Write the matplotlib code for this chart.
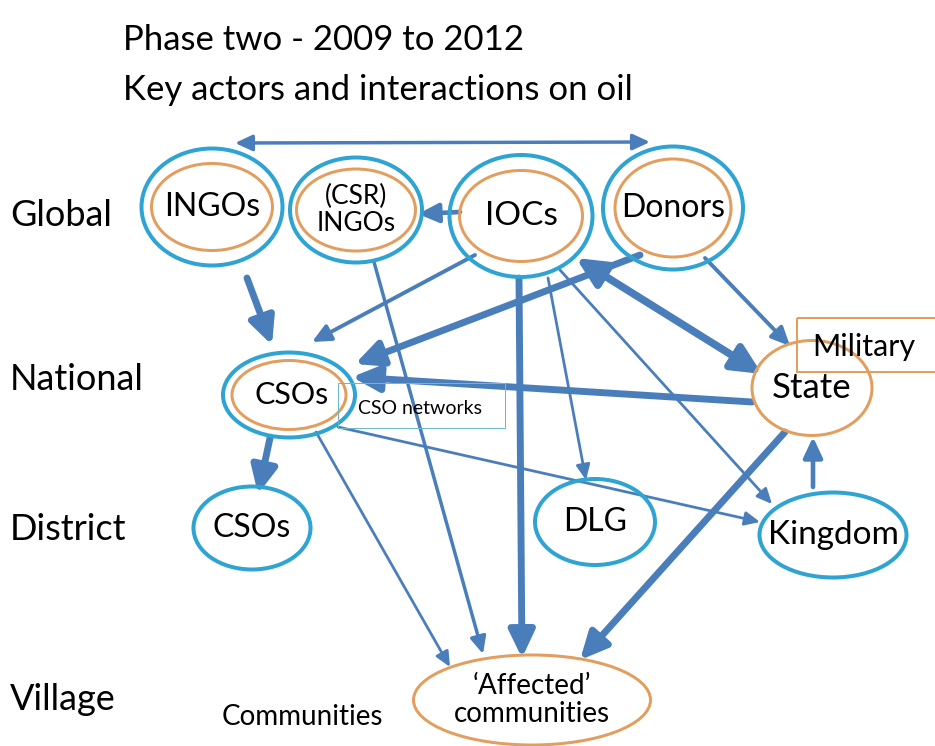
import matplotlib.pyplot as plt
from matplotlib.patches import Ellipse, Rectangle, FancyArrowPatch

plt.rcParams['font.family'] = ['Lato', 'DejaVu Sans']

# ---- data ----
title_lines = ['Phase two - 2009 to 2012', 'Key actors and interactions on oil']
levels = ['Global', 'National', 'District', 'Village']

node_names = ['ingos', 'csr', 'iocs', 'donors', 'csos_nat', 'state',
              'csos_dist', 'dlg', 'kingdom', 'affected']
node_labels = ['INGOs', '(CSR)\nINGOs', 'IOCs', 'Donors', 'CSOs', 'State',
               'CSOs', 'DLG', 'Kingdom', '\u2018Affected\u2019\ncommunities']
# ring type: 'both' = blue outer + orange inner, 'blue', 'orange'
node_rings = ['both', 'both', 'both', 'both', 'both', 'orange',
              'blue', 'blue', 'blue', 'orange']

# edges: source, target, strength (1 thin .. 3 thick), double-headed
edge_src = ['donors', 'ingos', 'iocs', 'csr', 'iocs', 'donors', 'state', 'donors',
            'state', 'iocs', 'iocs', 'iocs', 'csos_nat', 'csos_nat', 'csos_nat',
            'kingdom', 'state']
edge_dst = ['ingos', 'csos_nat', 'csr', 'affected', 'csos_nat', 'csos_nat', 'iocs',
            'state', 'csos_nat', 'affected', 'dlg', 'kingdom', 'kingdom',
            'csos_dist', 'affected', 'state', 'affected']
edge_strength = [1.5, 3, 2, 1.5, 1.7, 3, 3.3, 1.7, 3, 3, 1.2, 1.2, 1.2, 3, 1.2, 2, 3]
edge_double = [True] + [False] * 5 + [True] + [False] * 10

extra_boxes = ['Military', 'CSO networks']
side_note = 'Communities'

# ---- layout (pixel coordinates) ----
node_pos = {
    'ingos': (212, 207), 'csr': (356, 210), 'iocs': (521, 216), 'donors': (673, 208),
    'csos_nat': (289, 395), 'state': (812, 388), 'csos_dist': (252, 528),
    'dlg': (595, 522), 'kingdom': (833, 535), 'affected': (532, 700),
}
outer_size = {
    'ingos': (141, 117), 'csr': (132, 105), 'iocs': (143, 122), 'donors': (140, 123),
    'csos_nat': (132, 85), 'csos_dist': (117, 83), 'dlg': (120, 86),
    'kingdom': (147, 85),
}
inner_size = {
    'ingos': (121, 87), 'csr': (119, 82), 'iocs': (123, 91), 'donors': (116, 98),
    'csos_nat': (114, 69), 'state': (120, 95), 'affected': (237, 90),
}
edge_pts = [
    ((650, 142), (235, 143)),
    ((247, 278), (272, 345)),
    ((460, 212), (418, 214)),
    ((374, 262), (483, 654)),
    ((475, 255), (312, 342)),
    ((640, 255), (355, 364)),
    ((762, 374), (576, 258)),
    ((705, 258), (790, 346)),
    ((752, 402), (352, 377)),
    ((519, 278), (522, 658)),
    ((548, 278), (586, 480)),
    ((560, 270), (772, 504)),
    ((338, 427), (760, 522)),
    ((270, 438), (258, 494)),
    ((316, 432), (450, 667)),
    ((813, 487), (813, 437)),
    ((785, 432), (580, 660)),
]
level_y = [215, 380, 530, 700]

BLUE = '#2fa4d2'
ORANGE = '#e29e5e'
ARROW = '#4a7ebb'
PX = 0.72  # pixels -> points at dpi 100

fig = plt.figure(figsize=(9.35, 7.46), dpi=100)
ax = fig.add_axes([0, 0, 1, 1])
ax.set_xlim(0, 935)
ax.set_ylim(746, 0)
ax.axis('off')

# title
ax.text(123, 40, title_lines[0], fontsize=25, va='center', ha='left')
ax.text(123, 90, title_lines[1], fontsize=25, va='center', ha='left')

# level labels
for lab, y in zip(levels, level_y):
    ax.text(10, y, lab, fontsize=26, va='center', ha='left')

# edges
for (p0, p1), s, dbl in zip(edge_pts, edge_strength, edge_double):
    lw = 2.3 * s * PX
    hw = 5 + 5.5 * s
    hl = 6 + 5.5 * s
    style = '<|-|>' if dbl else '-|>'
    arr = FancyArrowPatch(p0, p1, arrowstyle=f'{style},head_length={hl * PX},head_width={hw * PX / 2}',
                          color=ARROW, lw=lw, shrinkA=0, shrinkB=0, zorder=2)
    ax.add_patch(arr)

# nodes
for name, lab, ring in zip(node_names, node_labels, node_rings):
    x, y = node_pos[name]
    if ring in ('both', 'blue'):
        w, h = outer_size[name]
        ax.add_patch(Ellipse((x, y), w, h, fill=False, ec=BLUE, lw=4 * PX, zorder=3))
    if ring in ('both', 'orange'):
        w, h = inner_size[name]
        ax.add_patch(Ellipse((x, y), w, h, fill=False, ec=ORANGE, lw=3 * PX, zorder=3))

# extra boxes
ax.add_patch(Rectangle((797, 318), 150, 54, fill=False, ec=ORANGE, lw=2 * PX, zorder=3))
ax.add_patch(Rectangle((338, 383), 167, 45, fill=False, ec='#6db8c6', lw=1 * PX, zorder=3))

# node labels
fs = {'csr': 19, 'affected': 20, 'state': 25, 'kingdom': 24, 'csos_nat': 22,
      'iocs': 24, 'dlg': 23}
for name, lab in zip(node_names, node_labels):
    x, y = node_pos[name]
    dx = {'csos_nat': 3, 'state': 0}.get(name, 0)
    ax.text(x + dx, y, lab, fontsize=fs.get(name, 23), ha='center', va='center',
            linespacing=1.1, zorder=5)

ax.text(864, 347, extra_boxes[0], fontsize=22, ha='center', va='center', zorder=5)
ax.text(420, 408, extra_boxes[1], fontsize=14, ha='center', va='center', zorder=5)
ax.text(222, 717, side_note, fontsize=20, ha='left', va='center')

fig.savefig('out.png', dpi=100)
